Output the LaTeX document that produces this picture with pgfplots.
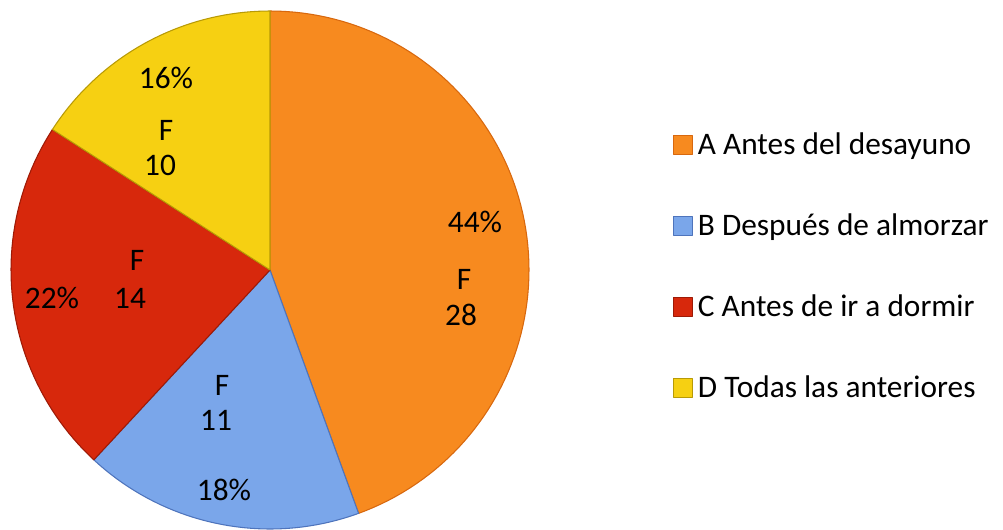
\documentclass[border=0pt]{standalone}
\usepackage{pgfplots}
\pgfplotsset{compat=1.18}
\usepackage{fontspec}
\setmainfont{Carlito}
\definecolor{cA}{HTML}{F78A1F}
\definecolor{cAd}{HTML}{D8680E}
\definecolor{cB}{HTML}{7AA6EA}
\definecolor{cBd}{HTML}{4E74BC}
\definecolor{cC}{HTML}{D7280C}
\definecolor{cCd}{HTML}{9E1A06}
\definecolor{cD}{HTML}{F6D012}
\definecolor{cDd}{HTML}{B89A05}
\def\vA{28}\def\vB{11}\def\vC{14}\def\vD{10}
\pgfmathsetmacro{\tot}{\vA+\vB+\vC+\vD}
\pgfmathsetmacro{\aO}{90}
\pgfmathsetmacro{\aA}{\aO-360*\vA/\tot}
\pgfmathsetmacro{\aB}{\aA-360*\vB/\tot}
\pgfmathsetmacro{\aC}{\aB-360*\vC/\tot}
\pgfmathsetmacro{\aD}{\aC-360*\vD/\tot}
\begin{document}
\begin{tikzpicture}
\begin{axis}[hide axis, scale only axis, width=752.25pt, height=396.75pt,
  xmin=0, xmax=1003, ymin=0, ymax=529, clip=false,
  every axis plot/.append style={line width=0.8pt, line join=round},
  legend image code/.code={\path[#1, line width=0.5pt] (0pt,-7pt) rectangle (14pt,7pt);},
  legend style={at={(axis cs:673,529-130)}, anchor=north west, draw=none, fill=none,
    font=\fontsize{23.5}{28}\selectfont, row sep=39pt, inner sep=0pt,
    nodes={inner sep=2pt, inner xsep=4pt}},
  legend cell align=left,
  nodes={font=\fontsize{23.5}{28}\selectfont}]
\addplot[fill=cA, draw=cAd, domain=\aA:\aO, samples=90, variable=\t]
  ({270+259*cos(\t)},{259+259*sin(\t)}) -- (270,259) -- cycle;
\addlegendentry{A Antes del desayuno}
\addplot[fill=cB, draw=cBd, domain=\aB:\aA, samples=40, variable=\t]
  ({270+259*cos(\t)},{259+259*sin(\t)}) -- (270,259) -- cycle;
\addlegendentry{B Después de almorzar}
\addplot[fill=cC, draw=cCd, domain=\aC:\aB, samples=50, variable=\t]
  ({270+259*cos(\t)},{259+259*sin(\t)}) -- (270,259) -- cycle;
\addlegendentry{C Antes de ir a dormir}
\addplot[fill=cD, draw=cDd, domain=\aD:\aC, samples=40, variable=\t]
  ({270+259*cos(\t)},{259+259*sin(\t)}) -- (270,259) -- cycle;
\addlegendentry{D Todas las anteriores}
\node at (axis cs:475,307) {44\%};
\node at (axis cs:464,250) {F};
\node at (axis cs:461,214) {28};
\node at (axis cs:222,144) {F};
\node at (axis cs:216,109) {11};
\node at (axis cs:224,39) {18\%};
\node at (axis cs:137,269) {F};
\node at (axis cs:130,231) {14};
\node at (axis cs:52,231) {22\%};
\node at (axis cs:166,451) {16\%};
\node at (axis cs:166,399) {F};
\node at (axis cs:160,364) {10};
\path (rel axis cs:0,0) rectangle (rel axis cs:1,1);
\end{axis}
\end{tikzpicture}
\end{document}
